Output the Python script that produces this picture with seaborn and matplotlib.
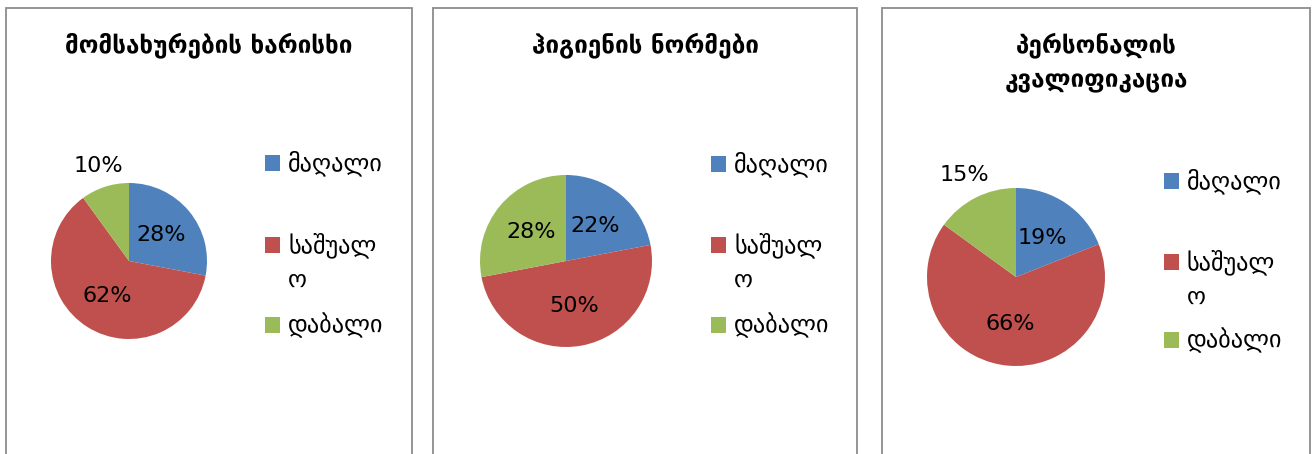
import matplotlib
matplotlib.use("Agg")
import matplotlib.pyplot as plt
from matplotlib.patches import Rectangle
import numpy as np
import seaborn as sns

sns.set_theme()
sns.set_style("white")
plt.rcParams['font.family'] = ['DejaVu Sans']

# data
titles = ['მომსახურების ხარისხი', 'ჰიგიენის ნორმები', 'პერსონალის\nკვალიფიკაცია']
categories = ['მაღალი', 'საშუალ\nო', 'დაბალი']
service = [28, 62, 10]
hygiene = [22, 50, 28]
staff = [19, 66, 15]
colors = ['#4F81BD', '#C0504D', '#9BBB59']

W, H = 1312, 454
fig = plt.figure(figsize=(W / 100, H / 100), dpi=100)


def fx(x):
    return x / W


def fy(y):
    return 1 - y / H


# panel layout in pixels: frame left/right, pie centre, radius, title y, legend x, legend rows
panels = [
    dict(left=6, right=412, cx=129, cy=261, r=78, ty=45, lx=265, rows=[163, 245, 325]),
    dict(left=433, right=857, cx=566, cy=261, r=86, ty=45, lx=711, rows=[164, 245, 325]),
    dict(left=882, right=1310, cx=1016, cy=277, r=89, ty=62, lx=1164, rows=[181, 262, 340]),
]

for p, title, vals in zip(panels, titles, [service, hygiene, staff]):
    fig.patches.append(Rectangle((fx(p['left']), fy(H + 5)), fx(p['right'] - p['left']),
                                 (H - 3) / H, transform=fig.transFigure, fill=False,
                                 edgecolor='#8c8c8c', linewidth=1.3))
    fig.text(fx((p['left'] + p['right']) / 2), fy(p['ty']), title, ha='center', va='center',
             fontsize=17.5, fontweight='bold', color='black', linespacing=1.5)

    r = p['r']
    ax = fig.add_axes([fx(p['cx'] - r), fy(p['cy'] + r), 2 * r / W, 2 * r / H])
    wedges, _ = ax.pie(vals, colors=colors, startangle=90, counterclock=False,
                       wedgeprops=dict(linewidth=0))
    ax.set_xlim(-1, 1)
    ax.set_ylim(-1, 1)
    ax.axis('off')
    for w, v in zip(wedges, vals):
        ang = np.deg2rad((w.theta1 + w.theta2) / 2)
        d = 1.28 if v <= 15 else 0.53
        ax.text(d * np.cos(ang), d * np.sin(ang), f'{v}%', ha='center', va='center',
                fontsize=16, color='black')

    for c, lab, y in zip(colors, categories, p['rows']):
        fig.patches.append(Rectangle((fx(p['lx']), fy(y + 8)), 15 / W, 16 / H,
                                     transform=fig.transFigure, facecolor=c, edgecolor='none'))
        for i, line in enumerate(lab.split('\n')):
            fig.text(fx(p['lx'] + 23), fy(y + 35 * i), line, ha='left', va='center',
                     fontsize=17.5, color='black')

fig.savefig('out.png', dpi=100)
